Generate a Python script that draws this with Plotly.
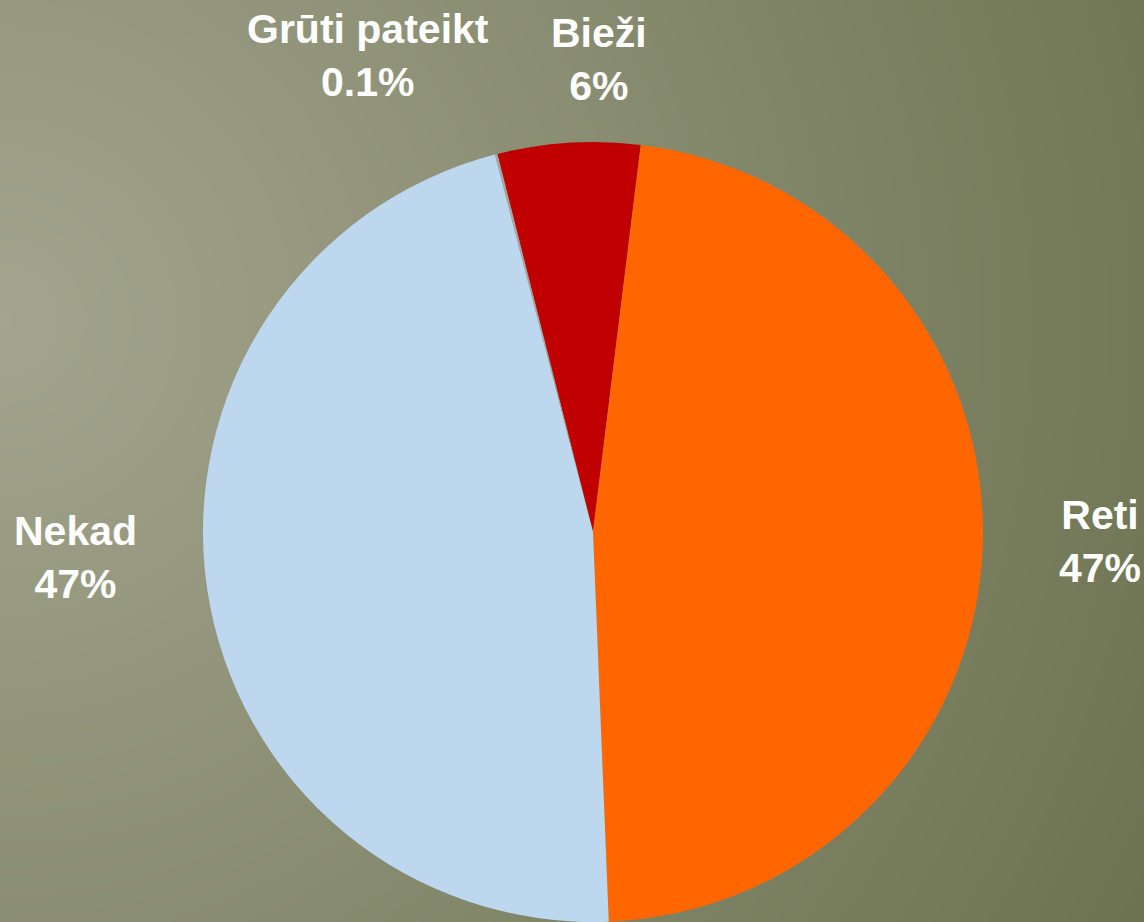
import base64
import struct
import zlib

import numpy as np
import plotly.graph_objects as go

# ---- data ----
labels = ["Bieži", "Reti", "Nekad", "Grūti pateikt"]
values = [5.9, 47.4, 46.6, 0.1]
pct_text = ["6%", "47%", "47%", "0.1%"]
colors = ["#C00000", "#FF6600", "#BDD7EE", "#A6A6A6"]

# label placement (paper coords)
label_x = [599 / 1144, 1100 / 1144, 75 / 1144, 368 / 1144]
label_y = [1 - 60 / 922, 1 - 541 / 922, 1 - 557 / 922, 1 - 55 / 922]

W, H = 1144, 922


# ---- gradient background as inline PNG ----
def make_png(rgb):
    h, w, _ = rgb.shape
    raw = np.concatenate([np.zeros((h, 1), dtype=np.uint8), rgb.reshape(h, w * 3)], axis=1).tobytes()

    def chunk(t, d):
        return struct.pack(">I", len(d)) + t + d + struct.pack(">I", zlib.crc32(t + d) & 0xFFFFFFFF)

    png = b"\x89PNG\r\n\x1a\n"
    png += chunk(b"IHDR", struct.pack(">IIBBBBB", w, h, 8, 2, 0, 0, 0))
    png += chunk(b"IDAT", zlib.compress(raw, 9))
    png += chunk(b"IEND", b"")
    return "data:image/png;base64," + base64.b64encode(png).decode()


gw, gh = W // 2, H // 2
yy, xx = np.mgrid[0:gh, 0:gw].astype(float)
xx *= 2
yy *= 2
d = np.sqrt((xx - 0) ** 2 + (yy - 320) ** 2)
t = np.clip(d / 1400.0, 0, 1)[..., None]
c0 = np.array([163, 165, 142], float)
c1 = np.array([104, 110, 76], float)
img = (c0 * (1 - t) + c1 * t).round().astype(np.uint8)
bg_src = make_png(img)

fig = go.Figure(
    go.Pie(
        labels=labels,
        values=values,
        sort=False,
        direction="clockwise",
        rotation=-14.2,
        marker=dict(colors=colors, line=dict(width=0)),
        textinfo="none",
        hoverinfo="label+percent",
        domain=dict(x=[202 / 1144, 984 / 1144], y=[0.0, 0.846]),
        showlegend=False,
    )
)

for lab, pct, x, y in zip(labels, pct_text, label_x, label_y):
    fig.add_annotation(
        x=x, y=y, xref="paper", yref="paper",
        text=f"<b>{lab}<br>{pct}</b>",
        showarrow=False, xanchor="center", yanchor="middle",
        font=dict(family="Liberation Sans, Arial, sans-serif", size=41, color="white"),
        align="center",
    )

fig.add_layout_image(
    dict(source=bg_src, xref="paper", yref="paper", x=0, y=1, sizex=1, sizey=1,
         xanchor="left", yanchor="top", sizing="stretch", layer="below")
)

fig.update_layout(
    width=W, height=H,
    margin=dict(l=0, r=0, t=0, b=0),
    paper_bgcolor="#878A6C",
    plot_bgcolor="rgba(0,0,0,0)",
)

fig.write_html(
    "out.html",
    config={"displayModeBar": False},
    post_script="document.body.style.margin='0';document.body.style.overflow='hidden';",
)
